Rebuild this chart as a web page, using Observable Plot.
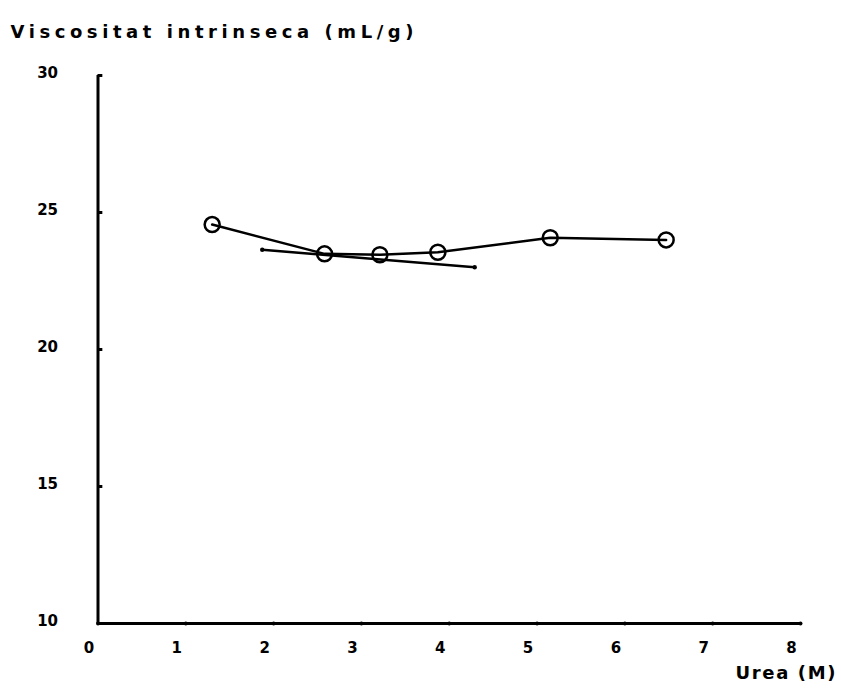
<!DOCTYPE html>
<html>
<head>
<meta charset="utf-8">
<script src="https://cdn.jsdelivr.net/npm/d3@7"></script>
<script src="https://cdn.jsdelivr.net/npm/@observablehq/plot@0.6"></script>
<style>
  html, body { margin: 0; padding: 0; background: #fff; }
</style>
</head>
<body>
<div id="chart"></div>
<script>
const titleText = "Viscositat intrinseca (mL/g)";
const xLabelText = "Urea (M)";
const urea = [1.3, 2.58, 3.21, 3.87, 5.15, 6.47];
const viscosity = [24.56, 23.49, 23.46, 23.55, 24.08, 24.0];
const fitX = [1.87, 4.29];
const fitY = [23.64, 23.0];
const xTicks = [0, 1, 2, 3, 4, 5, 6, 7, 8];
const yTicks = [10, 15, 20, 25, 30];

const points = urea.map((x, i) => ({x, y: viscosity[i]}));
const fit = fitX.map((x, i) => ({x, y: fitY[i]}));

const plot = Plot.plot({
  width: 841,
  height: 695,
  marginLeft: 97.5,
  marginRight: 41,
  marginTop: 75,
  marginBottom: 72,
  style: {fontFamily: "DejaVu Sans", fontWeight: "bold", fontSize: "15px", color: "#000", background: "#fff"},
  x: {domain: [0, 8]},
  y: {domain: [10, 30]},
  marks: [
    Plot.axisX(xTicks, {tickSize: 0, tickPadding: 19, dx: -9, fontSize: 15, label: null, tickFormat: d => String(d)}),
    Plot.axisY(yTicks, {tickSize: 0, tickPadding: 40, dy: -2, fontSize: 15, label: null, tickFormat: d => String(d)}),
    Plot.ruleX([0], {y1: 10, y2: 30, stroke: "#000", strokeWidth: 3}),
    Plot.ruleY([10], {x1: 0, x2: 8, stroke: "#000", strokeWidth: 3}),
    Plot.ruleY(yTicks, {y: d => d, x1: 0, x2: 0.055, stroke: "#000", strokeWidth: 3}),
    Plot.dot(xTicks, {x: d => d, y: () => 10, r: 2, fill: "#000", stroke: "none"}),
    Plot.line(points, {x: "x", y: "y", stroke: "#000", strokeWidth: 2.5}),
    Plot.line(fit, {x: "x", y: "y", stroke: "#000", strokeWidth: 2.5}),
    Plot.dot(fit, {x: "x", y: "y", r: 2.2, fill: "#000", stroke: "none"}),
    Plot.dot(points, {x: "x", y: "y", r: 7.5, stroke: "#000", strokeWidth: 2.5, fill: "none"}),
    Plot.text([titleText], {text: d => d, frameAnchor: "top-left", dx: -87.5, dy: -43, textAnchor: "start", lineAnchor: "middle", fontSize: 18}),
    Plot.text([xLabelText], {text: d => d, frameAnchor: "bottom-right", dx: 35, dy: 50, textAnchor: "end", lineAnchor: "middle", fontSize: 18})
  ]
});

const svgTexts = d3.select(plot).selectAll("text");
svgTexts.filter(function() { return this.textContent === titleText; })
  .attr("textLength", 403).attr("lengthAdjust", "spacing");
svgTexts.filter(function() { return this.textContent === xLabelText; })
  .attr("textLength", 100).attr("lengthAdjust", "spacing");

document.getElementById("chart").appendChild(plot);
</script>
</body>
</html>
